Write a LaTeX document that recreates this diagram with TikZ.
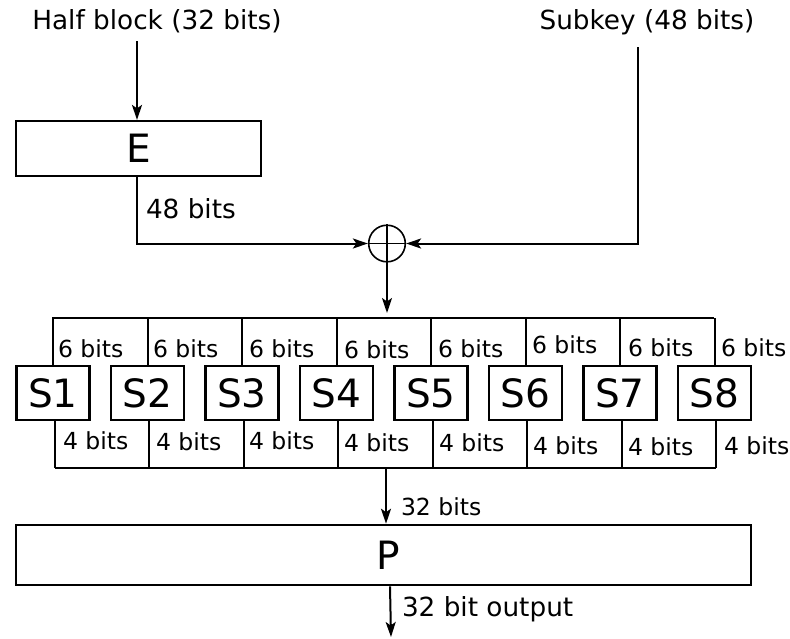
\documentclass[tikz,border=0pt]{standalone}
\usepackage{fontspec}
\setmainfont{DejaVu Sans}
\usetikzlibrary{arrows.meta}
\begin{document}
\begin{tikzpicture}[x=1pt,y=-1pt,
  line width=2pt,
  arr/.style={-{Stealth[length=15pt,width=10pt,inset=3.5pt]}, line width=2pt},
  wire/.style={line width=2pt},
  bigbox/.style={draw, line width=2.2pt, inner sep=0pt, font=\fontsize{39}{44}\selectfont},
  sbox/.style={draw, line width=2.2pt, minimum width=73pt, minimum height=54pt, inner sep=0pt, font=\fontsize{39}{44}\selectfont},
  lbl/.style={inner sep=0pt, font=\fontsize{26.3}{30}\selectfont},
  sml/.style={inner sep=0pt, anchor=west, font=\fontsize{23.5}{27}\selectfont}]
\useasboundingbox (0,0) rectangle (790,638);

% top labels
\node[lbl] (hb) at (157,21) {Half block (32 bits)};
\node[lbl] (sk) at (647,22) {Subkey (48 bits)};

% E box
\node[bigbox, minimum width=245pt, minimum height=55pt] (E) at (138.5,148.5) {E};
\coordinate (hbtop) at (137,41);
\draw[arr] (hbtop) -- (E.north -| hbtop);

% XOR
\node[draw, circle, line width=1.6pt, minimum size=36.6pt, inner sep=0pt] (x) at (387,243.5) {};
\draw[line width=1.6pt] (x.north) -- (x.south) (x.west) -- (x.east);

\coordinate (ecorner) at (137,243.5);
\draw[arr] (E.south -| ecorner) -- (ecorner) -- (x.west);
\node[lbl, anchor=west] (b48) at (145,209) {48 bits};

\coordinate (skc) at (638,47);
\coordinate (skcorner) at (638,243.5);
\draw[arr] (skc) -- (skcorner) -- (x.east);

% top bus
\coordinate (busL) at (52,318);
\coordinate (busR) at (714,318);
\coordinate (busM) at (387,313);
\draw[arr] (x.south) -- (busM);
\draw[wire] (busL) -- (busR);

% S boxes
\foreach \i/\cx in {1/53,2/147.5,3/242,4/336.5,5/431,6/525.5,7/620,8/714.5}{
  \node[sbox] (s\i) at (\cx,393) {S\i};
  \coordinate (t\i) at (\cx,318);
  \coordinate (b\i) at (\cx+1.5,468);
  \draw[wire] (t\i) -- (s\i.north);
  \draw[wire] (s\i.south -| b\i) -- (b\i);
}

% 6 bits labels
\foreach \i/\lx/\ly in {1/57/349,2/152/349,3/248/349,4/343/350,5/437/349,6/531/345,7/627/348,8/720/348}{
  \node[sml] (u\i) at (\lx,\ly) {6 bits};
}
% 4 bits labels
\foreach \i/\lx/\ly in {1/62/441,2/155/442,3/248/441,4/343/443,5/438/443,6/532/446,7/627/447,8/723/446}{
  \node[sml] (d\i) at (\lx,\ly) {4 bits};
}

% bottom bus
\coordinate (bbL) at (54.5,468);
\coordinate (bbR) at (716,468);
\draw[wire] (bbL) -- (bbR);

% P box
\node[bigbox, minimum width=735pt, minimum height=60pt, line width=2.6pt] (P) at (383.5,555) {\hspace*{10pt}P};
\coordinate (pin) at (386,468);
\draw[arr] (pin) -- (P.north -| pin);
\node[sml] (b32) at (400,507) {32 bits};

\coordinate (pout) at (391,637);
\draw[arr] (P.south -| 390,0) -- (pout);
\node[lbl, anchor=west] (out) at (401,609) {32 bit output};
\end{tikzpicture}
\end{document}
